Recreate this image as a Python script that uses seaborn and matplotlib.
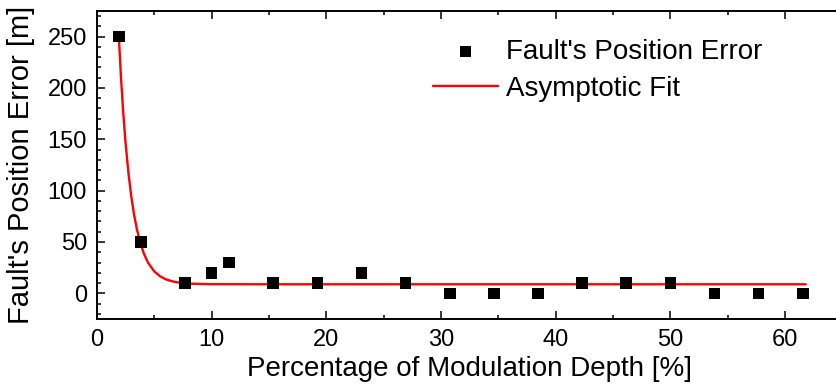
import matplotlib
matplotlib.use("Agg")
import matplotlib.pyplot as plt
from matplotlib.ticker import MultipleLocator
import seaborn as sns
import pandas as pd

# Measured data
depth = [1.92, 3.85, 7.69, 10.0, 11.54, 15.38, 19.23, 23.08, 26.92, 30.77,
         34.62, 38.46, 42.31, 46.15, 50.0, 53.85, 57.69, 61.54]
error = [250, 50, 10, 20, 30, 10, 10, 20, 10, 0,
         0, 0, 10, 10, 10, 0, 0, 0]

# Asymptotic fit curve
fit_x = [1.92, 2.1, 2.3, 2.5, 2.75, 3.0, 3.25, 3.5, 3.8, 4.1, 4.35, 4.5, 5.0,
         5.5, 6.0, 6.5, 7.0, 8.0, 9.0, 10.0, 15.0, 30.0, 61.8]
fit_y = [250, 211.7, 176.5, 147.3, 117.9, 94.7, 76.4, 62.1, 48.8, 38.8, 32.5,
         29.3, 21.5, 16.7, 13.7, 11.9, 10.7, 9.5, 9.1, 8.9, 8.8, 8.8, 8.8]

x_ticks = [0, 10, 20, 30, 40, 50, 60]
y_ticks = [0, 50, 100, 150, 200, 250]

sns.set_style("ticks")
plt.rcParams['font.family'] = ['Liberation Sans', 'DejaVu Sans']
plt.rcParams.update({
    "text.color": "black", "axes.labelcolor": "black", "axes.edgecolor": "black",
    "xtick.color": "black", "ytick.color": "black",
})

fig = plt.figure(figsize=(8.36, 3.85), dpi=100)
ax = fig.add_axes([0.1158, 0.1714, 0.8919, 0.8003])

df_pts = pd.DataFrame({"x": depth, "y": error})
df_fit = pd.DataFrame({"x": fit_x, "y": fit_y})

sns.lineplot(data=df_fit, x="x", y="y", ax=ax, color="#ff0000", linewidth=1.7,
             label="Asymptotic Fit", sort=False, zorder=2)
sns.scatterplot(data=df_pts, x="x", y="y", ax=ax, marker="s", s=70, color="black",
                edgecolor="none", label="Fault's Position Error", zorder=3)

ax.set_xlim(0, 65)
ax.set_ylim(-25, 275)
ax.set_xticks(x_ticks)
ax.set_yticks(y_ticks)
ax.xaxis.set_minor_locator(MultipleLocator(5))
ax.yaxis.set_minor_locator(MultipleLocator(10))
ax.tick_params(which="both", direction="in", top=True, right=False, width=1.1,
               labelsize=17, pad=7, colors="black")
ax.tick_params(which="major", length=6)
ax.tick_params(which="minor", length=3)
for s in ax.spines.values():
    s.set_linewidth(1.4)
    s.set_color("black")
ax.spines["right"].set_visible(False)

ax.set_xlabel("Percentage of Modulation Depth [%]", fontsize=20, labelpad=4)
ax.set_ylabel("Fault's Position Error [m]", fontsize=21, labelpad=9)

handles, labels = ax.get_legend_handles_labels()
order = [labels.index("Fault's Position Error"), labels.index("Asymptotic Fit")]
ax.legend([handles[i] for i in order], [labels[i] for i in order],
          loc="upper left", bbox_to_anchor=(0.436, 0.945), frameon=False,
          fontsize=20, handlelength=2.34, handletextpad=0.29, labelspacing=0.38,
          borderaxespad=0)

fig.savefig("out.png", dpi=100)
